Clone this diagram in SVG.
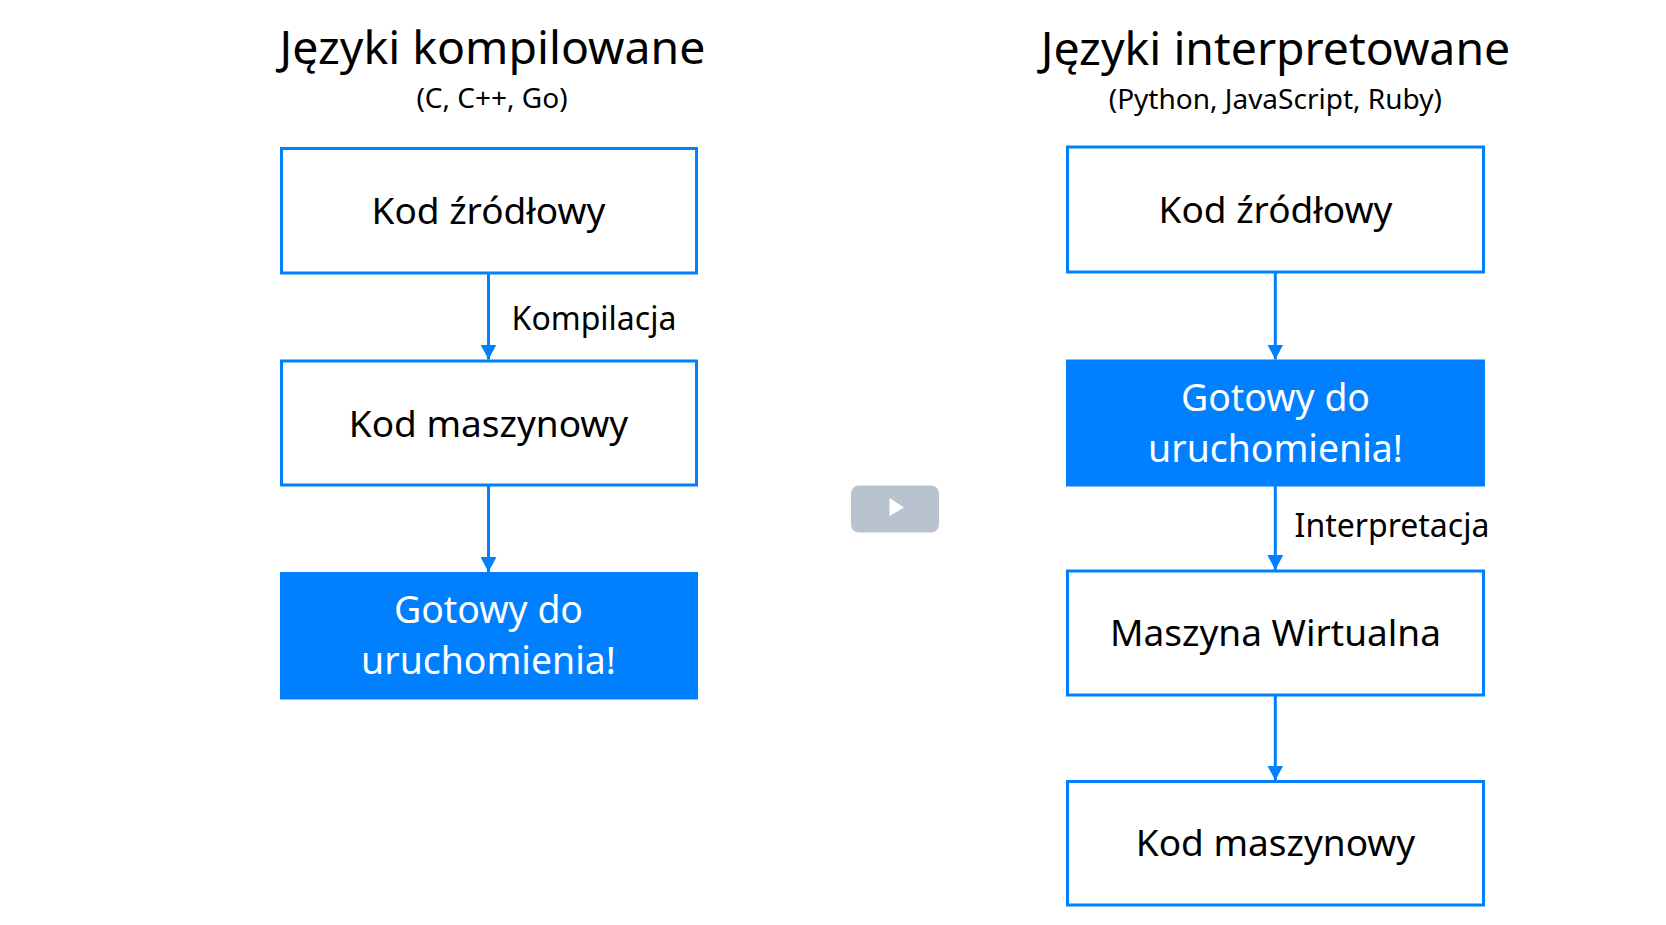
<svg xmlns="http://www.w3.org/2000/svg" width="1666" height="925" viewBox="0 0 1666 925">
<style>
text{font-family:"Noto Sans","Open Sans","DejaVu Sans",sans-serif;text-anchor:middle;fill:#000}
.t{font-size:46.400px}.s{font-size:28px}.n{font-size:37px}.l{font-size:32px}
.b{fill:#fff;stroke:#007fff;stroke-width:3}
.f{fill:#007fff}
.c{fill:none;stroke:#007fff;stroke-width:3;marker-end:url(#a)}
</style>
<defs><marker id="a" markerUnits="userSpaceOnUse" markerWidth="16" markerHeight="16" refX="15" refY="8" orient="auto"><path d="M0 0L15 8L0 16z" fill="#007fff"/></marker></defs>
<rect width="1666" height="925" fill="#fff"/>
<g id="connectors">
<path class="c" d="M488.500 273V359.500"/>
<path class="c" d="M488.500 486V572"/>
<path class="c" d="M1275.300 272V359.500"/>
<path class="c" d="M1275.300 486V570"/>
<path class="c" d="M1275.300 696V780.500"/>
</g>
<g id="title-left"><text class="t" x="492.500" y="63.500">Języki kompilowane</text><text class="s" x="492" y="108">(C, C++, Go)</text></g>
<g id="title-right"><text class="t" x="1275.500" y="64.500">Języki interpretowane</text><text class="s" x="1275.300" y="109">(Python, JavaScript, Ruby)</text></g>
<g id="l1"><rect class="b" x="281.500" y="148.500" width="415" height="124.500"/><text class="n" x="488.500" y="224">Kod źródłowy</text></g>
<g id="l2"><rect class="b" x="281.500" y="361" width="415" height="124"/><text class="n" x="488.500" y="437">Kod maszynowy</text></g>
<g id="l3"><rect class="f" x="280" y="572" width="418" height="127.500"/><text x="488.500" y="623" style="font-size:37.400px;fill:#fff">Gotowy do</text><text x="488.500" y="674" style="font-size:37.400px;fill:#fff">uruchomienia!</text></g>
<g id="r1"><rect class="b" x="1067.500" y="147" width="416" height="125"/><text class="n" x="1275.500" y="223">Kod źródłowy</text></g>
<g id="r2"><rect class="f" x="1066" y="359.500" width="419" height="127"/><text x="1275.500" y="411" style="font-size:37.400px;fill:#fff">Gotowy do</text><text x="1275.500" y="462" style="font-size:37.400px;fill:#fff">uruchomienia!</text></g>
<g id="r3"><rect class="b" x="1067.500" y="571" width="416" height="124"/><text class="n" x="1275.500" y="646">Maszyna Wirtualna</text></g>
<g id="r4"><rect class="b" x="1067.500" y="781.500" width="416" height="123.500"/><text class="n" x="1275.500" y="856">Kod maszynowy</text></g>
<g id="label-kompilacja"><text class="l" x="594" y="330">Kompilacja</text></g>
<g id="label-interpretacja"><text class="l" x="1392" y="537">Interpretacja</text></g>
<g id="play"><rect x="851" y="485.500" width="88" height="47" rx="8" fill="#b9c3d0"/><path d="M889.500 498L904 507.500L889.500 516z" fill="#fff"/></g>
</svg>
